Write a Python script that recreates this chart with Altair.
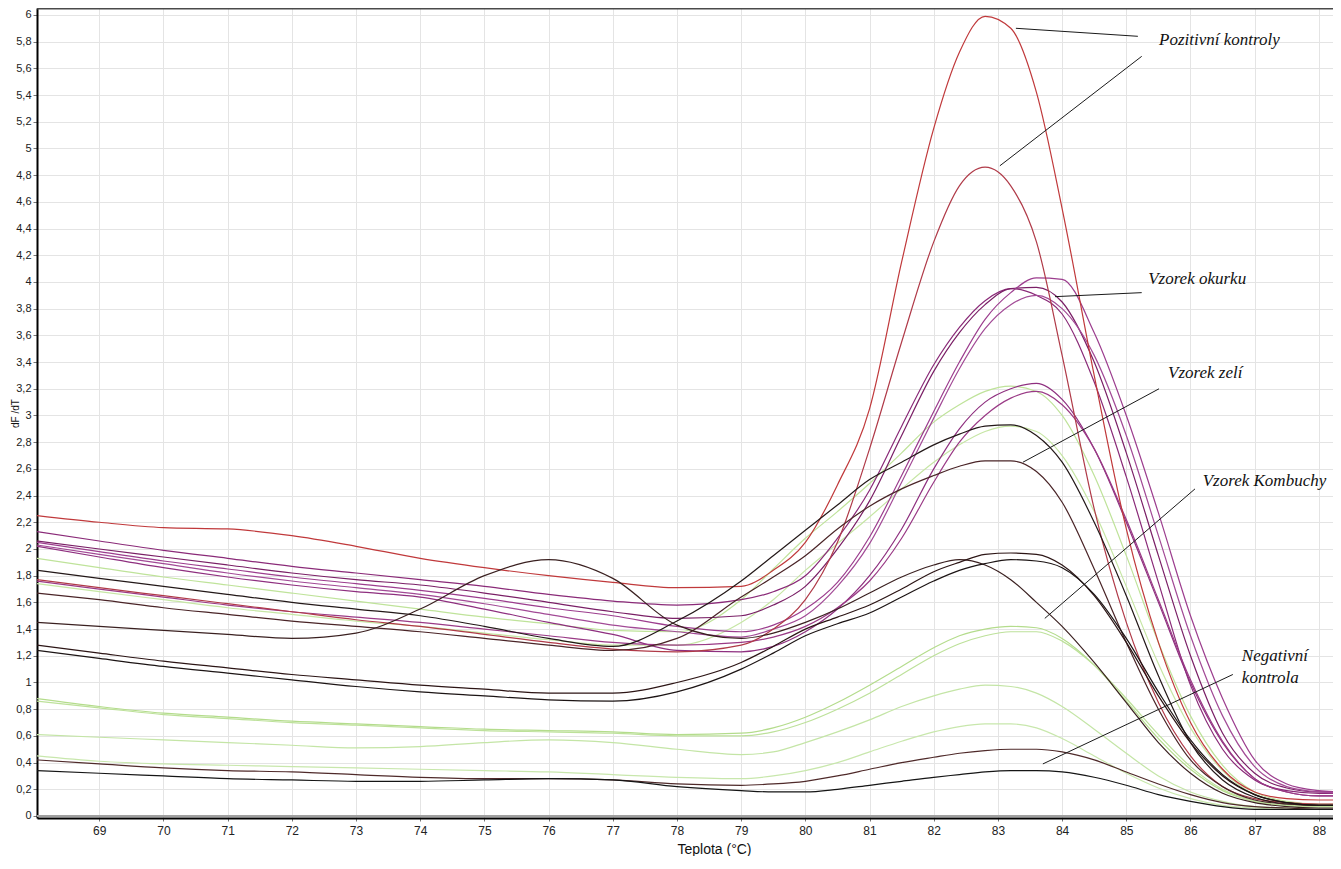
import altair as alt
import pandas as pd

# ---------------- data ----------------
temperature = [68.03, 69, 70, 71, 72, 73, 74, 75, 76, 77, 78, 79, 79.5, 80, 80.5, 81, 81.5,
               82, 82.4, 82.8, 83.2, 83.6, 84, 84.5, 85, 85.5, 86, 86.5, 87, 87.5, 88, 88.35]

pc1 = [2.25, 2.20, 2.16, 2.15, 2.10, 2.02, 1.93, 1.86, 1.80, 1.75, 1.71, 1.72, 1.84, 2.05, 2.48, 3.05, 4.15,
       5.15, 5.72, 5.99, 5.90, 5.42, 4.55, 3.30, 2.15, 1.30, 0.70, 0.35, 0.18, 0.13, 0.12, 0.12]
pc2 = [1.77, 1.71, 1.65, 1.59, 1.53, 1.47, 1.42, 1.36, 1.30, 1.25, 1.23, 1.28, 1.40, 1.62, 2.05, 2.75, 3.55,
       4.30, 4.72, 4.86, 4.72, 4.30, 3.45, 2.30, 1.45, 0.85, 0.45, 0.22, 0.13, 0.10, 0.09, 0.09]

okurka1 = [2.13, 2.06, 1.99, 1.93, 1.87, 1.82, 1.77, 1.72, 1.66, 1.61, 1.58, 1.62, 1.68, 1.80, 2.08, 2.44, 2.92,
           3.38, 3.66, 3.86, 3.95, 3.90, 3.76, 3.25, 2.54, 1.75, 0.98, 0.50, 0.27, 0.19, 0.17, 0.17]
okurka2 = [2.06, 2.00, 1.94, 1.88, 1.82, 1.77, 1.73, 1.67, 1.60, 1.53, 1.48, 1.50, 1.58, 1.72, 2.00, 2.36, 2.85,
           3.33, 3.62, 3.83, 3.95, 3.96, 3.85, 3.40, 2.72, 1.95, 1.20, 0.62, 0.32, 0.21, 0.18, 0.18]
okurka3 = [2.05, 1.98, 1.91, 1.85, 1.79, 1.74, 1.69, 1.63, 1.56, 1.50, 1.42, 1.38, 1.43, 1.55, 1.75, 2.09, 2.55,
           3.03, 3.40, 3.72, 3.92, 4.03, 4.02, 3.62, 3.00, 2.27, 1.50, 0.88, 0.42, 0.24, 0.19, 0.18]
okurka4 = [2.03, 1.96, 1.89, 1.82, 1.76, 1.71, 1.66, 1.59, 1.51, 1.43, 1.38, 1.34, 1.40, 1.50, 1.72, 2.04, 2.50,
           2.98, 3.35, 3.65, 3.83, 3.90, 3.80, 3.45, 2.85, 2.10, 1.35, 0.75, 0.37, 0.22, 0.18, 0.17]
okurka5 = [2.02, 1.94, 1.86, 1.79, 1.73, 1.68, 1.64, 1.55, 1.45, 1.36, 1.24, 1.23, 1.27, 1.38, 1.55, 1.80, 2.15,
           2.60, 2.90, 3.10, 3.20, 3.24, 3.12, 2.75, 2.20, 1.60, 1.00, 0.55, 0.28, 0.18, 0.15, 0.15]
okurka6 = [1.76, 1.70, 1.64, 1.58, 1.53, 1.49, 1.45, 1.40, 1.35, 1.30, 1.28, 1.30, 1.34, 1.42, 1.56, 1.76, 2.08,
           2.50, 2.80, 3.00, 3.13, 3.18, 3.08, 2.75, 2.22, 1.62, 1.02, 0.56, 0.28, 0.18, 0.15, 0.15]

zeli1 = [1.84, 1.78, 1.72, 1.66, 1.60, 1.55, 1.50, 1.42, 1.33, 1.27, 1.46, 1.76, 1.95, 2.14, 2.33, 2.52, 2.65,
         2.78, 2.86, 2.92, 2.93, 2.85, 2.65, 2.20, 1.65, 1.05, 0.55, 0.27, 0.14, 0.09, 0.08, 0.08]
zeli2 = [1.67, 1.62, 1.56, 1.51, 1.46, 1.42, 1.38, 1.33, 1.28, 1.24, 1.33, 1.64, 1.79, 1.95, 2.15, 2.32, 2.45,
         2.55, 2.62, 2.66, 2.66, 2.58, 2.35, 1.85, 1.30, 0.80, 0.42, 0.22, 0.12, 0.09, 0.08, 0.08]

green1 = [1.93, 1.86, 1.79, 1.73, 1.67, 1.61, 1.55, 1.49, 1.44, 1.39, 1.38, 1.62, 1.85, 2.08, 2.28, 2.49, 2.72,
          2.95, 3.08, 3.18, 3.22, 3.18, 3.00, 2.55, 1.95, 1.30, 0.75, 0.38, 0.18, 0.11, 0.09, 0.09]
green2 = [1.74, 1.68, 1.62, 1.56, 1.51, 1.46, 1.42, 1.37, 1.32, 1.28, 1.28, 1.45, 1.62, 1.84, 2.04, 2.24, 2.45,
          2.65, 2.78, 2.88, 2.92, 2.88, 2.70, 2.28, 1.72, 1.14, 0.66, 0.34, 0.16, 0.10, 0.08, 0.08]
green3 = [0.88, 0.82, 0.77, 0.74, 0.71, 0.69, 0.67, 0.65, 0.64, 0.63, 0.61, 0.62, 0.66, 0.74, 0.85, 0.98, 1.12,
          1.26, 1.35, 1.40, 1.42, 1.41, 1.33, 1.13, 0.86, 0.58, 0.35, 0.19, 0.11, 0.08, 0.07, 0.07]
green4 = [0.86, 0.81, 0.76, 0.73, 0.70, 0.68, 0.66, 0.64, 0.63, 0.62, 0.60, 0.60, 0.63, 0.70, 0.80, 0.92, 1.06,
          1.20, 1.29, 1.35, 1.38, 1.38, 1.31, 1.13, 0.88, 0.61, 0.37, 0.20, 0.11, 0.08, 0.07, 0.07]
green5 = [0.61, 0.59, 0.57, 0.55, 0.53, 0.51, 0.52, 0.55, 0.57, 0.55, 0.50, 0.46, 0.48, 0.55, 0.63, 0.72, 0.82,
          0.90, 0.95, 0.98, 0.97, 0.92, 0.82, 0.65, 0.47, 0.30, 0.18, 0.11, 0.07, 0.06, 0.05, 0.05]
green6 = [0.45, 0.41, 0.39, 0.38, 0.37, 0.36, 0.35, 0.34, 0.33, 0.31, 0.29, 0.28, 0.30, 0.34, 0.40, 0.48, 0.56,
          0.63, 0.67, 0.69, 0.69, 0.66, 0.58, 0.45, 0.32, 0.21, 0.13, 0.08, 0.06, 0.05, 0.05, 0.05]

kombucha1 = [1.45, 1.42, 1.39, 1.36, 1.33, 1.37, 1.55, 1.80, 1.92, 1.78, 1.43, 1.33, 1.37, 1.45, 1.55, 1.67, 1.79,
             1.88, 1.92, 1.88, 1.77, 1.60, 1.42, 1.15, 0.85, 0.55, 0.32, 0.17, 0.10, 0.07, 0.06, 0.06]
kombucha2 = [1.28, 1.22, 1.16, 1.11, 1.06, 1.02, 0.98, 0.95, 0.92, 0.92, 1.00, 1.15, 1.27, 1.40, 1.49, 1.58, 1.70,
             1.83, 1.90, 1.96, 1.97, 1.96, 1.88, 1.65, 1.30, 0.90, 0.55, 0.30, 0.16, 0.10, 0.08, 0.08]
kombucha3 = [1.24, 1.18, 1.12, 1.07, 1.02, 0.97, 0.93, 0.90, 0.87, 0.86, 0.93, 1.10, 1.22, 1.35, 1.44, 1.52, 1.64,
             1.76, 1.84, 1.89, 1.92, 1.91, 1.86, 1.66, 1.33, 0.93, 0.57, 0.31, 0.16, 0.10, 0.08, 0.08]

negative1 = [0.42, 0.39, 0.36, 0.34, 0.33, 0.31, 0.29, 0.28, 0.28, 0.27, 0.24, 0.23, 0.24, 0.26, 0.30, 0.35, 0.40,
             0.44, 0.47, 0.49, 0.50, 0.50, 0.48, 0.42, 0.33, 0.24, 0.16, 0.10, 0.07, 0.06, 0.05, 0.05]
negative2 = [0.34, 0.32, 0.30, 0.28, 0.27, 0.26, 0.26, 0.27, 0.28, 0.27, 0.22, 0.19, 0.18, 0.18, 0.20, 0.23, 0.26,
             0.29, 0.31, 0.33, 0.34, 0.34, 0.33, 0.29, 0.23, 0.16, 0.11, 0.07, 0.05, 0.05, 0.05, 0.05]

# series name, drawing group, values, colour
series = [
    ("G1", "green", green1, "#bfe39a"),
    ("G2", "green", green2, "#c6e6a4"),
    ("G3", "green", green3, "#b4dc8c"),
    ("G4", "green", green4, "#bde19a"),
    ("G5", "green", green5, "#c4e5a6"),
    ("G6", "green", green6, "#c8e7ac"),
    ("P1", "purple", okurka1, "#8a2a78"),
    ("P2", "purple", okurka2, "#7a1f66"),
    ("P3", "purple", okurka3, "#9c3d8e"),
    ("P4", "purple", okurka4, "#a24a96"),
    ("P5", "purple", okurka5, "#8e2f7f"),
    ("P6", "purple", okurka6, "#9a3a86"),
    ("PC1", "red", pc1, "#c0393b"),
    ("PC2", "red", pc2, "#b03a48"),
    ("Z1", "dark", zeli1, "#231818"),
    ("Z2", "dark", zeli2, "#4a2427"),
    ("K1", "dark", kombucha1, "#3a2020"),
    ("K2", "dark", kombucha2, "#2c1515"),
    ("K3", "dark", kombucha3, "#1c1414"),
    ("N1", "dark", negative1, "#4f2a2a"),
    ("N2", "dark", negative2, "#151515"),
]

x_ticks = [69, 70, 71, 72, 73, 74, 75, 76, 77, 78, 79, 80, 81, 82, 83, 84, 85, 86, 87, 88]
y_ticks = [0, 0.2, 0.4, 0.6, 0.8, 1, 1.2, 1.4, 1.6, 1.8, 2, 2.2, 2.4, 2.6, 2.8, 3, 3.2, 3.4, 3.6,
           3.8, 4, 4.2, 4.4, 4.6, 4.8, 5, 5.2, 5.4, 5.6, 5.8, 6]

# annotation labels and leader lines (data coordinates)
label_text = ["Pozitivní kontroly", "Vzorek okurku", "Vzorek zelí", "Vzorek Kombuchy", "Negativní", "kontrola"]
label_t = [85.51, 85.34, 85.65, 86.19, 86.80, 86.80]
label_v = [5.81, 4.02, 3.32, 2.51, 1.20, 1.03]

leader_t1 = [83.28, 83.03, 83.89, 83.39, 83.73, 83.70]
leader_v1 = [5.90, 4.87, 3.89, 2.65, 1.48, 0.39]
leader_t2 = [85.18, 85.24, 85.24, 85.51, 86.07, 86.66]
leader_v2 = [5.84, 5.69, 3.92, 3.20, 2.45, 1.06]

# ---------------- build tables ----------------
rows = []
for name, grp, vals, _c in series:
    for t, v in zip(temperature, vals):
        rows.append({"series": name, "grp": grp, "T": t, "v": v})
df = pd.DataFrame(rows)

labels_df = pd.DataFrame({"label": label_text, "T": label_t, "v": label_v})
leaders_df = pd.DataFrame({"t1": leader_t1, "v1": leader_v1, "t2": leader_t2, "v2": leader_v2})

W, H = 1296, 810
x_scale = alt.Scale(domain=[68.03, 88.22], nice=False, zero=False)
y_scale = alt.Scale(domain=[-0.015, 6.052], nice=False, zero=False)
color_scale = alt.Scale(domain=[s[0] for s in series], range=[s[3] for s in series])

x_axis = alt.Axis(
    values=x_ticks, title="Teplota (°C)", grid=True, gridColor="#e4e4e4", gridWidth=1,
    domainColor="#000000", domainWidth=2, tickColor="#777777", tickSize=3,
    labelPadding=4, labelFont="Liberation Sans", labelFontSize=12,
    labelColor="#222222", labelFlush=False,
    titleFont="Liberation Sans", titleFontSize=14, titleFontWeight="normal", titleColor="#111111",
    titleX=677, titleY=35, titleAlign="center", titleBaseline="alphabetic",
)
y_axis = alt.Axis(
    values=y_ticks, title="dF /dT", grid=True, gridColor="#e4e4e4", gridWidth=1,
    domainColor="#000000", domainWidth=2, tickColor="#777777", tickSize=4,
    labelPadding=2, labelFont="Liberation Sans", labelFontSize=11, labelColor="#222222",
    labelExpr="replace(format(datum.value, '.1~f'), '.', ',')",
    titleFont="Liberation Sans", titleFontSize=10, titleFontWeight="normal", titleColor="#111111",
    titleX=-22, titleY=H / 2, titleAngle=270, titleAlign="center", titleBaseline="middle",
)

X = lambda f: alt.X(f, scale=x_scale, axis=x_axis, title="Teplota (°C)")
Y = lambda f: alt.Y(f, scale=y_scale, axis=y_axis, title="dF /dT")


def line_layer(grp, width):
    return alt.Chart(df).transform_filter(alt.datum.grp == grp).mark_line(
        strokeWidth=width, clip=True, interpolate="monotone"
    ).encode(
        x=X("T:Q"),
        y=Y("v:Q"),
        color=alt.Color("series:N", scale=color_scale, legend=None),
        detail="series:N",
    )


zero_line = alt.Chart(pd.DataFrame({"v": [0]})).mark_rule(color="#a0a0a0", strokeWidth=2).encode(
    y=Y("v:Q")
)
top_border = alt.Chart(pd.DataFrame({"v": [0]})).mark_rule(color="#4a4a4a", strokeWidth=1.5).encode(
    y=alt.value(0.75), x=alt.value(0), x2=alt.value(W)
)

leaders = alt.Chart(leaders_df).mark_rule(color="#1a1a1a", strokeWidth=1).encode(
    x=X("t1:Q"),
    y=Y("v1:Q"),
    x2="t2:Q",
    y2="v2:Q",
)
labels = alt.Chart(labels_df).mark_text(
    font="Liberation Serif", fontStyle="italic", fontSize=17, align="left", baseline="middle",
    color="#111111",
).encode(
    x=X("T:Q"),
    y=Y("v:Q"),
    text="label:N",
)

chart = alt.layer(
    line_layer("green", 1.2),
    line_layer("purple", 1.2),
    line_layer("red", 1.2),
    line_layer("dark", 1.2),
    zero_line,
    top_border,
    leaders,
    labels,
).properties(
    width=W,
    height=H,
    padding={"left": 29, "top": 0, "right": 0, "bottom": 38},
    autosize=alt.AutoSizeParams(type="none"),
    background="white",
).configure_view(stroke=None)

chart.save("out.html", embed_options={"renderer": "svg", "actions": False})
